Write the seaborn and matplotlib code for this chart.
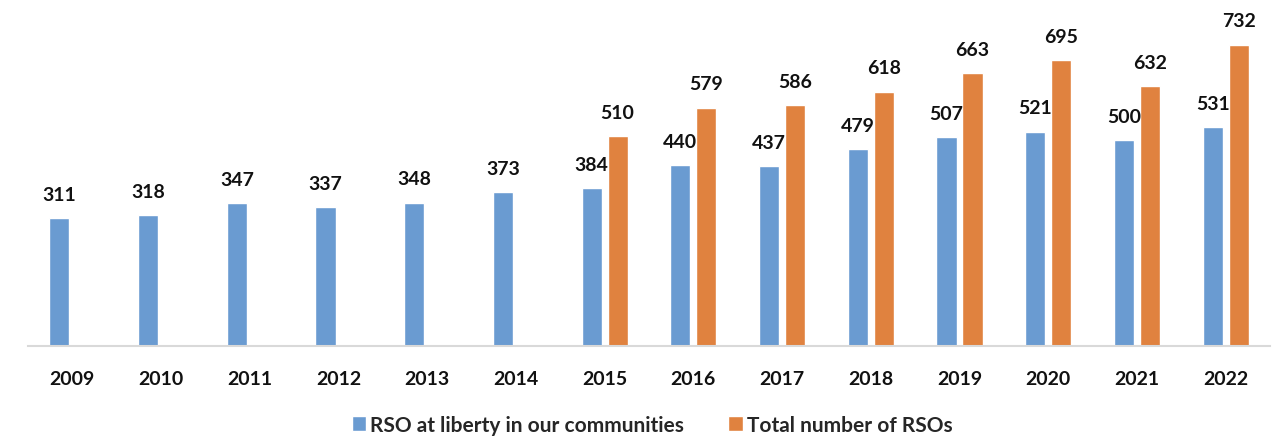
import matplotlib
matplotlib.use('Agg')
import matplotlib.pyplot as plt
import seaborn as sns
import pandas as pd

# chart values
years = [2009, 2010, 2011, 2012, 2013, 2014, 2015, 2016, 2017, 2018, 2019, 2020, 2021, 2022]
at_liberty = [311, 318, 347, 337, 348, 373, 384, 440, 437, 479, 507, 521, 500, 531]
total_years = [2015, 2016, 2017, 2018, 2019, 2020, 2021, 2022]
total_rsos = [510, 579, 586, 618, 663, 695, 632, 732]
series_names = ['RSO at liberty in our communities', 'Total number of RSOs']
colors = ['#6A9BD1', '#E0823F']

sns.set_style('white')
plt.rcParams['font.family'] = ['Lato', 'DejaVu Sans']
plt.rcParams['font.weight'] = 'bold'

df = pd.concat([
    pd.DataFrame({'year': years, 'value': at_liberty, 'series': series_names[0]}),
    pd.DataFrame({'year': total_years, 'value': total_rsos, 'series': series_names[1]}),
])
df['year'] = pd.Categorical(df['year'].astype(str), categories=[str(y) for y in years])

fig = plt.figure(figsize=(12.87, 4.39), dpi=100)
ax = fig.add_axes([28 / 1287, 92 / 439, 1242 / 1287, 347 / 439])

sns.barplot(data=df, x='year', y='value', hue='series', hue_order=series_names,
            palette=colors, width=0.586, gap=0.23, errorbar=None, ax=ax,
            saturation=1, legend=True)

for c in ax.containers:
    ax.bar_label(c, fmt='%d', padding=11, fontsize=14, fontweight='bold', color='#111111')

ax.set_xlim(-0.5, len(years) - 0.5)
ax.set_ylim(0, 843)
ax.set_xlabel('')
ax.set_ylabel('')
ax.set_yticks([])
for s in ['top', 'right', 'left']:
    ax.spines[s].set_visible(False)
ax.spines['bottom'].set_color('#D9D9D9')
ax.spines['bottom'].set_linewidth(1.5)
ax.tick_params(axis='x', direction='inout', length=7, width=1.5, color='#D9D9D9',
               pad=14, labelsize=14, labelcolor='#111111')
for t in ax.get_xticklabels():
    t.set_fontweight('bold')

handles, labels = ax.get_legend_handles_labels()
ax.legend().remove()
fig.legend(handles, labels, loc='center', bbox_to_anchor=(652 / 1287, 1 - 426 / 439),
           ncols=2, frameon=False, handlelength=0.7, handleheight=0.7,
           handletextpad=0.2, columnspacing=2.1,
           prop={'weight': 'bold', 'size': 15})

fig.savefig('out.png', dpi=100)
